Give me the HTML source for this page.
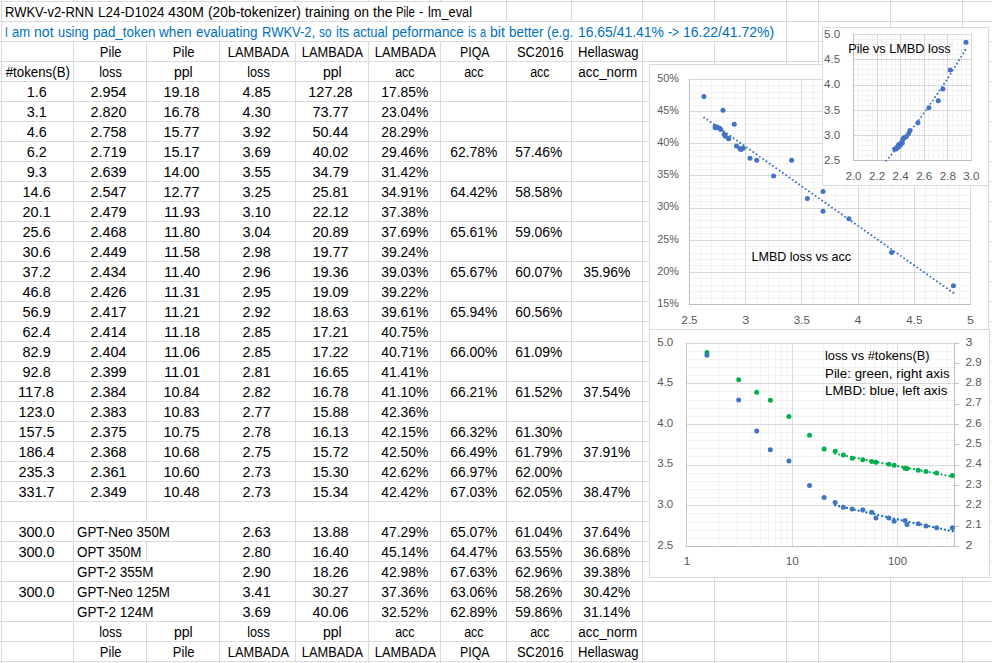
<!DOCTYPE html>
<html><head><meta charset="utf-8"><style>
html,body{margin:0;padding:0;}
body{width:992px;height:663px;overflow:hidden;background:#fff;position:relative;font-family:"Liberation Sans",sans-serif;}
.c{position:absolute;white-space:nowrap;font-size:14.0px;line-height:20px;height:20px;color:#000;transform-origin:center;}
svg{position:absolute;left:0;top:0;}
</style></head><body>
<svg width="992" height="663" fill="#dadada" shape-rendering="crispEdges"><rect x="0" y="1" width="992" height="1"/><rect x="0" y="21" width="992" height="1"/><rect x="0" y="41" width="992" height="1"/><rect x="0" y="61" width="992" height="1"/><rect x="0" y="81" width="992" height="1"/><rect x="0" y="101" width="992" height="1"/><rect x="0" y="121" width="992" height="1"/><rect x="0" y="141" width="992" height="1"/><rect x="0" y="161" width="992" height="1"/><rect x="0" y="181" width="992" height="1"/><rect x="0" y="201" width="992" height="1"/><rect x="0" y="221" width="992" height="1"/><rect x="0" y="241" width="992" height="1"/><rect x="0" y="261" width="992" height="1"/><rect x="0" y="281" width="992" height="1"/><rect x="0" y="301" width="992" height="1"/><rect x="0" y="321" width="992" height="1"/><rect x="0" y="341" width="992" height="1"/><rect x="0" y="361" width="992" height="1"/><rect x="0" y="381" width="992" height="1"/><rect x="0" y="401" width="992" height="1"/><rect x="0" y="421" width="992" height="1"/><rect x="0" y="441" width="992" height="1"/><rect x="0" y="461" width="992" height="1"/><rect x="0" y="481" width="992" height="1"/><rect x="0" y="501" width="992" height="1"/><rect x="0" y="521" width="992" height="1"/><rect x="0" y="541" width="992" height="1"/><rect x="0" y="561" width="992" height="1"/><rect x="0" y="581" width="992" height="1"/><rect x="0" y="601" width="992" height="1"/><rect x="0" y="621" width="992" height="1"/><rect x="0" y="641" width="992" height="1"/><rect x="0" y="661" width="992" height="1"/><rect x="1" y="0" width="1" height="664"/><rect x="73" y="0" width="1" height="2"/><rect x="73" y="42" width="1" height="622"/><rect x="146" y="0" width="1" height="2"/><rect x="146" y="42" width="1" height="480"/><rect x="146" y="542" width="1" height="20"/><rect x="146" y="622" width="1" height="42"/><rect x="219" y="0" width="1" height="2"/><rect x="219" y="42" width="1" height="622"/><rect x="295" y="0" width="1" height="2"/><rect x="295" y="42" width="1" height="622"/><rect x="368" y="0" width="1" height="2"/><rect x="368" y="42" width="1" height="622"/><rect x="440" y="0" width="1" height="2"/><rect x="440" y="42" width="1" height="622"/><rect x="506" y="0" width="1" height="22"/><rect x="506" y="42" width="1" height="622"/><rect x="571" y="0" width="1" height="22"/><rect x="571" y="42" width="1" height="622"/><rect x="642" y="0" width="1" height="22"/><rect x="642" y="42" width="1" height="622"/><rect x="714" y="0" width="1" height="22"/><rect x="714" y="42" width="1" height="622"/><rect x="786" y="0" width="1" height="664"/><rect x="818" y="0" width="1" height="664"/><rect x="890" y="0" width="1" height="664"/><rect x="962" y="0" width="1" height="664"/></svg>
<div class="c" style="left:4.80px;top:2px;transform:scaleX(0.9288);transform-origin:left;">RWKV-v2-RNN</div>
<div class="c" style="left:97.60px;top:2px;transform:scaleX(0.9585);transform-origin:left;">L24-D1024</div>
<div class="c" style="left:168.10px;top:2px;transform:scaleX(1.0227);transform-origin:left;">430M</div>
<div class="c" style="left:208.00px;top:2px;transform:scaleX(0.9863);transform-origin:left;">(20b-tokenizer)</div>
<div class="c" style="left:305.00px;top:2px;transform:scaleX(0.9679);transform-origin:left;">training</div>
<div class="c" style="left:353.50px;top:2px;transform:scaleX(0.9603);transform-origin:left;">on</div>
<div class="c" style="left:372.60px;top:2px;transform:scaleX(0.9986);transform-origin:left;">the</div>
<div class="c" style="left:396.20px;top:2px;transform:scaleX(0.8075);transform-origin:left;">Pile</div>
<div class="c" style="left:418.90px;top:2px;transform:scaleX(0.9455);transform-origin:left;">-</div>
<div class="c" style="left:428.00px;top:2px;transform:scaleX(0.9123);transform-origin:left;">lm_eval</div>
<div class="c" style="left:5.00px;top:22px;transform:scaleX(0.7416);transform-origin:left;color:#0070c0;">I</div>
<div class="c" style="left:12.03px;top:22px;transform:scaleX(0.9249);transform-origin:left;color:#0070c0;">am</div>
<div class="c" style="left:34.15px;top:22px;transform:scaleX(1.0073);transform-origin:left;color:#0070c0;">not</div>
<div class="c" style="left:57.88px;top:22px;transform:scaleX(0.9173);transform-origin:left;color:#0070c0;">using</div>
<div class="c" style="left:92.70px;top:22px;transform:scaleX(0.9563);transform-origin:left;color:#0070c0;">pad_token</div>
<div class="c" style="left:159.37px;top:22px;transform:scaleX(0.9713);transform-origin:left;color:#0070c0;">when</div>
<div class="c" style="left:196.00px;top:22px;transform:scaleX(0.9628);transform-origin:left;color:#0070c0;">evaluating</div>
<div class="c" style="left:261.60px;top:22px;transform:scaleX(0.9285);transform-origin:left;color:#0070c0;">RWKV-2,</div>
<div class="c" style="left:319.00px;top:22px;transform:scaleX(0.8521);transform-origin:left;color:#0070c0;">so</div>
<div class="c" style="left:335.68px;top:22px;transform:scaleX(0.9375);transform-origin:left;color:#0070c0;">its</div>
<div class="c" style="left:352.90px;top:22px;transform:scaleX(0.9296);transform-origin:left;color:#0070c0;">actual</div>
<div class="c" style="left:391.70px;top:22px;transform:scaleX(0.9722);transform-origin:left;color:#0070c0;">peformance</div>
<div class="c" style="left:467.70px;top:22px;transform:scaleX(0.8070);transform-origin:left;color:#0070c0;">is</div>
<div class="c" style="left:479.89px;top:22px;transform:scaleX(0.7784);transform-origin:left;color:#0070c0;">a</div>
<div class="c" style="left:490.05px;top:22px;transform:scaleX(1.0083);transform-origin:left;color:#0070c0;">bit</div>
<div class="c" style="left:509.00px;top:22px;transform:scaleX(0.9609);transform-origin:left;color:#0070c0;">better</div>
<div class="c" style="left:547.30px;top:22px;transform:scaleX(0.9399);transform-origin:left;color:#0070c0;">(e.g.</div>
<div class="c" style="left:577.80px;top:22px;transform:scaleX(0.9941);transform-origin:left;color:#0070c0;">16.65/41.41%</div>
<div class="c" style="left:667.70px;top:22px;transform:scaleX(0.8577);transform-origin:left;color:#0070c0;">-&gt;</div>
<div class="c" style="left:682.80px;top:22px;transform:scaleX(1.0014);transform-origin:left;color:#0070c0;">16.22/41.72%)</div>
<div class="c" style="left:99.13px;top:42px;transform:scaleX(0.9256);">Pile</div>
<div class="c" style="left:172.13px;top:42px;transform:scaleX(0.9256);">Pile</div>
<div class="c" style="left:224.84px;top:42px;transform:scaleX(0.9144);">LAMBADA</div>
<div class="c" style="left:299.34px;top:42px;transform:scaleX(0.9144);">LAMBADA</div>
<div class="c" style="left:371.84px;top:42px;transform:scaleX(0.9144);">LAMBADA</div>
<div class="c" style="left:457.57px;top:42px;transform:scaleX(0.8862);">PIQA</div>
<div class="c" style="left:514.50px;top:42px;transform:scaleX(0.9244);">SC2016</div>
<div class="c" style="left:575.51px;top:42px;transform:scaleX(0.9344);">Hellaswag</div>
<div class="c" style="left:4.45px;top:62px;transform:scaleX(0.9489);">#tokens(B)</div>
<div class="c" style="left:98.35px;top:62px;transform:scaleX(0.9062);">loss</div>
<div class="c" style="left:174.46px;top:62px;transform:scaleX(1.0043);">ppl</div>
<div class="c" style="left:245.85px;top:62px;transform:scaleX(0.9062);">loss</div>
<div class="c" style="left:323.46px;top:62px;transform:scaleX(1.0043);">ppl</div>
<div class="c" style="left:394.41px;top:62px;transform:scaleX(0.8922);">acc</div>
<div class="c" style="left:463.41px;top:62px;transform:scaleX(0.8922);">acc</div>
<div class="c" style="left:528.91px;top:62px;transform:scaleX(0.8922);">acc</div>
<div class="c" style="left:577.06px;top:62px;transform:scaleX(0.9601);">acc_norm</div>
<div class="c" style="left:26.57px;top:82px;transform:scaleX(1.0312);">1.6</div>
<div class="c" style="left:91.28px;top:82px;transform:scaleX(1.0326);">2.954</div>
<div class="c" style="left:164.28px;top:82px;transform:scaleX(1.0326);">19.18</div>
<div class="c" style="left:242.68px;top:82px;transform:scaleX(1.0321);">4.85</div>
<div class="c" style="left:309.39px;top:82px;transform:scaleX(1.0329);">127.28</div>
<div class="c" style="left:380.76px;top:82px;transform:scaleX(0.9905);">17.85%</div>
<div class="c" style="left:26.57px;top:102px;transform:scaleX(1.0312);">3.1</div>
<div class="c" style="left:91.28px;top:102px;transform:scaleX(1.0326);">2.820</div>
<div class="c" style="left:164.28px;top:102px;transform:scaleX(1.0326);">16.78</div>
<div class="c" style="left:242.68px;top:102px;transform:scaleX(1.0321);">4.30</div>
<div class="c" style="left:313.28px;top:102px;transform:scaleX(1.0326);">73.77</div>
<div class="c" style="left:380.76px;top:102px;transform:scaleX(0.9905);">23.04%</div>
<div class="c" style="left:26.57px;top:122px;transform:scaleX(1.0312);">4.6</div>
<div class="c" style="left:91.28px;top:122px;transform:scaleX(1.0326);">2.758</div>
<div class="c" style="left:164.28px;top:122px;transform:scaleX(1.0326);">15.77</div>
<div class="c" style="left:242.68px;top:122px;transform:scaleX(1.0321);">3.92</div>
<div class="c" style="left:313.28px;top:122px;transform:scaleX(1.0326);">50.44</div>
<div class="c" style="left:380.76px;top:122px;transform:scaleX(0.9905);">28.29%</div>
<div class="c" style="left:26.57px;top:142px;transform:scaleX(1.0312);">6.2</div>
<div class="c" style="left:91.28px;top:142px;transform:scaleX(1.0326);">2.719</div>
<div class="c" style="left:164.28px;top:142px;transform:scaleX(1.0326);">15.17</div>
<div class="c" style="left:242.68px;top:142px;transform:scaleX(1.0321);">3.69</div>
<div class="c" style="left:313.28px;top:142px;transform:scaleX(1.0326);">40.02</div>
<div class="c" style="left:380.76px;top:142px;transform:scaleX(0.9905);">29.46%</div>
<div class="c" style="left:449.76px;top:142px;transform:scaleX(0.9905);">62.78%</div>
<div class="c" style="left:515.26px;top:142px;transform:scaleX(0.9905);">57.46%</div>
<div class="c" style="left:26.57px;top:162px;transform:scaleX(1.0312);">9.3</div>
<div class="c" style="left:91.28px;top:162px;transform:scaleX(1.0326);">2.639</div>
<div class="c" style="left:164.28px;top:162px;transform:scaleX(1.0326);">14.00</div>
<div class="c" style="left:242.68px;top:162px;transform:scaleX(1.0321);">3.55</div>
<div class="c" style="left:313.28px;top:162px;transform:scaleX(1.0326);">34.79</div>
<div class="c" style="left:380.76px;top:162px;transform:scaleX(0.9905);">31.42%</div>
<div class="c" style="left:22.68px;top:182px;transform:scaleX(1.0321);">14.6</div>
<div class="c" style="left:91.28px;top:182px;transform:scaleX(1.0326);">2.547</div>
<div class="c" style="left:164.28px;top:182px;transform:scaleX(1.0326);">12.77</div>
<div class="c" style="left:242.68px;top:182px;transform:scaleX(1.0321);">3.25</div>
<div class="c" style="left:313.28px;top:182px;transform:scaleX(1.0326);">25.81</div>
<div class="c" style="left:380.76px;top:182px;transform:scaleX(0.9905);">34.91%</div>
<div class="c" style="left:449.76px;top:182px;transform:scaleX(0.9905);">64.42%</div>
<div class="c" style="left:515.26px;top:182px;transform:scaleX(0.9905);">58.58%</div>
<div class="c" style="left:22.68px;top:202px;transform:scaleX(1.0321);">20.1</div>
<div class="c" style="left:91.28px;top:202px;transform:scaleX(1.0326);">2.479</div>
<div class="c" style="left:164.80px;top:202px;transform:scaleX(1.0641);">11.93</div>
<div class="c" style="left:242.68px;top:202px;transform:scaleX(1.0321);">3.10</div>
<div class="c" style="left:313.28px;top:202px;transform:scaleX(1.0326);">22.12</div>
<div class="c" style="left:380.76px;top:202px;transform:scaleX(0.9905);">37.38%</div>
<div class="c" style="left:22.68px;top:222px;transform:scaleX(1.0321);">25.6</div>
<div class="c" style="left:91.28px;top:222px;transform:scaleX(1.0326);">2.468</div>
<div class="c" style="left:164.80px;top:222px;transform:scaleX(1.0641);">11.80</div>
<div class="c" style="left:242.68px;top:222px;transform:scaleX(1.0321);">3.04</div>
<div class="c" style="left:313.28px;top:222px;transform:scaleX(1.0326);">20.89</div>
<div class="c" style="left:380.76px;top:222px;transform:scaleX(0.9905);">37.69%</div>
<div class="c" style="left:449.76px;top:222px;transform:scaleX(0.9905);">65.61%</div>
<div class="c" style="left:515.26px;top:222px;transform:scaleX(0.9905);">59.06%</div>
<div class="c" style="left:22.68px;top:242px;transform:scaleX(1.0321);">30.6</div>
<div class="c" style="left:91.28px;top:242px;transform:scaleX(1.0326);">2.449</div>
<div class="c" style="left:164.80px;top:242px;transform:scaleX(1.0641);">11.58</div>
<div class="c" style="left:242.68px;top:242px;transform:scaleX(1.0321);">2.98</div>
<div class="c" style="left:313.28px;top:242px;transform:scaleX(1.0326);">19.77</div>
<div class="c" style="left:380.76px;top:242px;transform:scaleX(0.9905);">39.24%</div>
<div class="c" style="left:22.68px;top:262px;transform:scaleX(1.0321);">37.2</div>
<div class="c" style="left:91.28px;top:262px;transform:scaleX(1.0326);">2.434</div>
<div class="c" style="left:164.80px;top:262px;transform:scaleX(1.0641);">11.40</div>
<div class="c" style="left:242.68px;top:262px;transform:scaleX(1.0321);">2.96</div>
<div class="c" style="left:313.28px;top:262px;transform:scaleX(1.0326);">19.36</div>
<div class="c" style="left:380.76px;top:262px;transform:scaleX(0.9905);">39.03%</div>
<div class="c" style="left:449.76px;top:262px;transform:scaleX(0.9905);">65.67%</div>
<div class="c" style="left:515.26px;top:262px;transform:scaleX(0.9905);">60.07%</div>
<div class="c" style="left:583.26px;top:262px;transform:scaleX(0.9905);">35.96%</div>
<div class="c" style="left:22.68px;top:282px;transform:scaleX(1.0321);">46.8</div>
<div class="c" style="left:91.28px;top:282px;transform:scaleX(1.0326);">2.426</div>
<div class="c" style="left:164.80px;top:282px;transform:scaleX(1.0641);">11.31</div>
<div class="c" style="left:242.68px;top:282px;transform:scaleX(1.0321);">2.95</div>
<div class="c" style="left:313.28px;top:282px;transform:scaleX(1.0326);">19.09</div>
<div class="c" style="left:380.76px;top:282px;transform:scaleX(0.9905);">39.22%</div>
<div class="c" style="left:22.68px;top:302px;transform:scaleX(1.0321);">56.9</div>
<div class="c" style="left:91.28px;top:302px;transform:scaleX(1.0326);">2.417</div>
<div class="c" style="left:164.80px;top:302px;transform:scaleX(1.0641);">11.21</div>
<div class="c" style="left:242.68px;top:302px;transform:scaleX(1.0321);">2.92</div>
<div class="c" style="left:313.28px;top:302px;transform:scaleX(1.0326);">18.63</div>
<div class="c" style="left:380.76px;top:302px;transform:scaleX(0.9905);">39.61%</div>
<div class="c" style="left:449.76px;top:302px;transform:scaleX(0.9905);">65.94%</div>
<div class="c" style="left:515.26px;top:302px;transform:scaleX(0.9905);">60.56%</div>
<div class="c" style="left:22.68px;top:322px;transform:scaleX(1.0321);">62.4</div>
<div class="c" style="left:91.28px;top:322px;transform:scaleX(1.0326);">2.414</div>
<div class="c" style="left:164.80px;top:322px;transform:scaleX(1.0641);">11.18</div>
<div class="c" style="left:242.68px;top:322px;transform:scaleX(1.0321);">2.85</div>
<div class="c" style="left:313.28px;top:322px;transform:scaleX(1.0326);">17.21</div>
<div class="c" style="left:380.76px;top:322px;transform:scaleX(0.9905);">40.75%</div>
<div class="c" style="left:22.68px;top:342px;transform:scaleX(1.0321);">82.9</div>
<div class="c" style="left:91.28px;top:342px;transform:scaleX(1.0326);">2.404</div>
<div class="c" style="left:164.80px;top:342px;transform:scaleX(1.0641);">11.06</div>
<div class="c" style="left:242.68px;top:342px;transform:scaleX(1.0321);">2.85</div>
<div class="c" style="left:313.28px;top:342px;transform:scaleX(1.0326);">17.22</div>
<div class="c" style="left:380.76px;top:342px;transform:scaleX(0.9905);">40.71%</div>
<div class="c" style="left:449.76px;top:342px;transform:scaleX(0.9905);">66.00%</div>
<div class="c" style="left:515.26px;top:342px;transform:scaleX(0.9905);">61.09%</div>
<div class="c" style="left:22.68px;top:362px;transform:scaleX(1.0321);">92.8</div>
<div class="c" style="left:91.28px;top:362px;transform:scaleX(1.0326);">2.399</div>
<div class="c" style="left:164.80px;top:362px;transform:scaleX(1.0641);">11.01</div>
<div class="c" style="left:242.68px;top:362px;transform:scaleX(1.0321);">2.81</div>
<div class="c" style="left:313.28px;top:362px;transform:scaleX(1.0326);">16.65</div>
<div class="c" style="left:380.76px;top:362px;transform:scaleX(0.9905);">41.41%</div>
<div class="c" style="left:19.30px;top:382px;transform:scaleX(1.0641);">117.8</div>
<div class="c" style="left:91.28px;top:382px;transform:scaleX(1.0326);">2.384</div>
<div class="c" style="left:164.28px;top:382px;transform:scaleX(1.0326);">10.84</div>
<div class="c" style="left:242.68px;top:382px;transform:scaleX(1.0321);">2.82</div>
<div class="c" style="left:313.28px;top:382px;transform:scaleX(1.0326);">16.78</div>
<div class="c" style="left:380.76px;top:382px;transform:scaleX(0.9905);">41.10%</div>
<div class="c" style="left:449.76px;top:382px;transform:scaleX(0.9905);">66.21%</div>
<div class="c" style="left:515.26px;top:382px;transform:scaleX(0.9905);">61.52%</div>
<div class="c" style="left:583.26px;top:382px;transform:scaleX(0.9905);">37.54%</div>
<div class="c" style="left:18.78px;top:402px;transform:scaleX(1.0326);">123.0</div>
<div class="c" style="left:91.28px;top:402px;transform:scaleX(1.0326);">2.383</div>
<div class="c" style="left:164.28px;top:402px;transform:scaleX(1.0326);">10.83</div>
<div class="c" style="left:242.68px;top:402px;transform:scaleX(1.0321);">2.77</div>
<div class="c" style="left:313.28px;top:402px;transform:scaleX(1.0326);">15.88</div>
<div class="c" style="left:380.76px;top:402px;transform:scaleX(0.9905);">42.36%</div>
<div class="c" style="left:18.78px;top:422px;transform:scaleX(1.0326);">157.5</div>
<div class="c" style="left:91.28px;top:422px;transform:scaleX(1.0326);">2.375</div>
<div class="c" style="left:164.28px;top:422px;transform:scaleX(1.0326);">10.75</div>
<div class="c" style="left:242.68px;top:422px;transform:scaleX(1.0321);">2.78</div>
<div class="c" style="left:313.28px;top:422px;transform:scaleX(1.0326);">16.13</div>
<div class="c" style="left:380.76px;top:422px;transform:scaleX(0.9905);">42.15%</div>
<div class="c" style="left:449.76px;top:422px;transform:scaleX(0.9905);">66.32%</div>
<div class="c" style="left:515.26px;top:422px;transform:scaleX(0.9905);">61.30%</div>
<div class="c" style="left:18.78px;top:442px;transform:scaleX(1.0326);">186.4</div>
<div class="c" style="left:91.28px;top:442px;transform:scaleX(1.0326);">2.368</div>
<div class="c" style="left:164.28px;top:442px;transform:scaleX(1.0326);">10.68</div>
<div class="c" style="left:242.68px;top:442px;transform:scaleX(1.0321);">2.75</div>
<div class="c" style="left:313.28px;top:442px;transform:scaleX(1.0326);">15.72</div>
<div class="c" style="left:380.76px;top:442px;transform:scaleX(0.9905);">42.50%</div>
<div class="c" style="left:449.76px;top:442px;transform:scaleX(0.9905);">66.49%</div>
<div class="c" style="left:515.26px;top:442px;transform:scaleX(0.9905);">61.79%</div>
<div class="c" style="left:583.26px;top:442px;transform:scaleX(0.9905);">37.91%</div>
<div class="c" style="left:18.78px;top:462px;transform:scaleX(1.0326);">235.3</div>
<div class="c" style="left:91.28px;top:462px;transform:scaleX(1.0326);">2.361</div>
<div class="c" style="left:164.28px;top:462px;transform:scaleX(1.0326);">10.60</div>
<div class="c" style="left:242.68px;top:462px;transform:scaleX(1.0321);">2.73</div>
<div class="c" style="left:313.28px;top:462px;transform:scaleX(1.0326);">15.30</div>
<div class="c" style="left:380.76px;top:462px;transform:scaleX(0.9905);">42.62%</div>
<div class="c" style="left:449.76px;top:462px;transform:scaleX(0.9905);">66.97%</div>
<div class="c" style="left:515.26px;top:462px;transform:scaleX(0.9905);">62.00%</div>
<div class="c" style="left:18.78px;top:482px;transform:scaleX(1.0326);">331.7</div>
<div class="c" style="left:91.28px;top:482px;transform:scaleX(1.0326);">2.349</div>
<div class="c" style="left:164.28px;top:482px;transform:scaleX(1.0326);">10.48</div>
<div class="c" style="left:242.68px;top:482px;transform:scaleX(1.0321);">2.73</div>
<div class="c" style="left:313.28px;top:482px;transform:scaleX(1.0326);">15.34</div>
<div class="c" style="left:380.76px;top:482px;transform:scaleX(0.9905);">42.42%</div>
<div class="c" style="left:449.76px;top:482px;transform:scaleX(0.9905);">67.03%</div>
<div class="c" style="left:515.26px;top:482px;transform:scaleX(0.9905);">62.05%</div>
<div class="c" style="left:583.26px;top:482px;transform:scaleX(0.9905);">38.47%</div>
<div class="c" style="left:18.78px;top:522px;transform:scaleX(1.0326);">300.0</div>
<div class="c" style="left:77.00px;top:522px;transform:scaleX(0.9562);transform-origin:left;">GPT-Neo 350M</div>
<div class="c" style="left:242.68px;top:522px;transform:scaleX(1.0321);">2.63</div>
<div class="c" style="left:313.28px;top:522px;transform:scaleX(1.0326);">13.88</div>
<div class="c" style="left:380.76px;top:522px;transform:scaleX(0.9905);">47.29%</div>
<div class="c" style="left:449.76px;top:522px;transform:scaleX(0.9905);">65.07%</div>
<div class="c" style="left:515.26px;top:522px;transform:scaleX(0.9905);">61.04%</div>
<div class="c" style="left:583.26px;top:522px;transform:scaleX(0.9905);">37.64%</div>
<div class="c" style="left:18.78px;top:542px;transform:scaleX(1.0326);">300.0</div>
<div class="c" style="left:77.00px;top:542px;transform:scaleX(0.9558);transform-origin:left;">OPT 350M</div>
<div class="c" style="left:242.68px;top:542px;transform:scaleX(1.0321);">2.80</div>
<div class="c" style="left:313.28px;top:542px;transform:scaleX(1.0326);">16.40</div>
<div class="c" style="left:380.76px;top:542px;transform:scaleX(0.9905);">45.14%</div>
<div class="c" style="left:449.76px;top:542px;transform:scaleX(0.9905);">64.47%</div>
<div class="c" style="left:515.26px;top:542px;transform:scaleX(0.9905);">63.55%</div>
<div class="c" style="left:583.26px;top:542px;transform:scaleX(0.9905);">36.68%</div>
<div class="c" style="left:77.00px;top:562px;transform:scaleX(0.9645);transform-origin:left;">GPT-2 355M</div>
<div class="c" style="left:242.68px;top:562px;transform:scaleX(1.0321);">2.90</div>
<div class="c" style="left:313.28px;top:562px;transform:scaleX(1.0326);">18.26</div>
<div class="c" style="left:380.76px;top:562px;transform:scaleX(0.9905);">42.98%</div>
<div class="c" style="left:449.76px;top:562px;transform:scaleX(0.9905);">67.63%</div>
<div class="c" style="left:515.26px;top:562px;transform:scaleX(0.9905);">62.96%</div>
<div class="c" style="left:583.26px;top:562px;transform:scaleX(0.9905);">39.38%</div>
<div class="c" style="left:18.78px;top:582px;transform:scaleX(1.0326);">300.0</div>
<div class="c" style="left:77.00px;top:582px;transform:scaleX(0.9562);transform-origin:left;">GPT-Neo 125M</div>
<div class="c" style="left:242.68px;top:582px;transform:scaleX(1.0321);">3.41</div>
<div class="c" style="left:313.28px;top:582px;transform:scaleX(1.0326);">30.27</div>
<div class="c" style="left:380.76px;top:582px;transform:scaleX(0.9905);">37.36%</div>
<div class="c" style="left:449.76px;top:582px;transform:scaleX(0.9905);">63.06%</div>
<div class="c" style="left:515.26px;top:582px;transform:scaleX(0.9905);">58.26%</div>
<div class="c" style="left:583.26px;top:582px;transform:scaleX(0.9905);">30.42%</div>
<div class="c" style="left:77.00px;top:602px;transform:scaleX(0.9645);transform-origin:left;">GPT-2 124M</div>
<div class="c" style="left:242.68px;top:602px;transform:scaleX(1.0321);">3.69</div>
<div class="c" style="left:313.28px;top:602px;transform:scaleX(1.0326);">40.06</div>
<div class="c" style="left:380.76px;top:602px;transform:scaleX(0.9905);">32.52%</div>
<div class="c" style="left:449.76px;top:602px;transform:scaleX(0.9905);">62.89%</div>
<div class="c" style="left:515.26px;top:602px;transform:scaleX(0.9905);">59.86%</div>
<div class="c" style="left:583.26px;top:602px;transform:scaleX(0.9905);">31.14%</div>
<div class="c" style="left:98.35px;top:622px;transform:scaleX(0.9062);">loss</div>
<div class="c" style="left:174.46px;top:622px;transform:scaleX(1.0043);">ppl</div>
<div class="c" style="left:245.85px;top:622px;transform:scaleX(0.9062);">loss</div>
<div class="c" style="left:323.46px;top:622px;transform:scaleX(1.0043);">ppl</div>
<div class="c" style="left:394.41px;top:622px;transform:scaleX(0.8922);">acc</div>
<div class="c" style="left:463.41px;top:622px;transform:scaleX(0.8922);">acc</div>
<div class="c" style="left:528.91px;top:622px;transform:scaleX(0.8922);">acc</div>
<div class="c" style="left:577.06px;top:622px;transform:scaleX(0.9601);">acc_norm</div>
<div class="c" style="left:99.13px;top:642px;transform:scaleX(0.9256);">Pile</div>
<div class="c" style="left:172.13px;top:642px;transform:scaleX(0.9256);">Pile</div>
<div class="c" style="left:224.84px;top:642px;transform:scaleX(0.9144);">LAMBADA</div>
<div class="c" style="left:299.34px;top:642px;transform:scaleX(0.9144);">LAMBADA</div>
<div class="c" style="left:371.84px;top:642px;transform:scaleX(0.9144);">LAMBADA</div>
<div class="c" style="left:457.57px;top:642px;transform:scaleX(0.8862);">PIQA</div>
<div class="c" style="left:514.50px;top:642px;transform:scaleX(0.9244);">SC2016</div>
<div class="c" style="left:575.51px;top:642px;transform:scaleX(0.9344);">Hellaswag</div>
<svg width="992" height="663" style="position:absolute;left:0;top:0" font-family="Liberation Sans, sans-serif"><rect x="649.5" y="64.5" width="339" height="265" fill="#fff" stroke="#d9d9d9" stroke-width="1"/><rect x="700" y="79" width="1" height="226" fill="#f2f2f2"/><rect x="711" y="79" width="1" height="226" fill="#f2f2f2"/><rect x="723" y="79" width="1" height="226" fill="#f2f2f2"/><rect x="734" y="79" width="1" height="226" fill="#f2f2f2"/><rect x="756" y="79" width="1" height="226" fill="#f2f2f2"/><rect x="768" y="79" width="1" height="226" fill="#f2f2f2"/><rect x="779" y="79" width="1" height="226" fill="#f2f2f2"/><rect x="790" y="79" width="1" height="226" fill="#f2f2f2"/><rect x="813" y="79" width="1" height="226" fill="#f2f2f2"/><rect x="824" y="79" width="1" height="226" fill="#f2f2f2"/><rect x="835" y="79" width="1" height="226" fill="#f2f2f2"/><rect x="846" y="79" width="1" height="226" fill="#f2f2f2"/><rect x="869" y="79" width="1" height="226" fill="#f2f2f2"/><rect x="880" y="79" width="1" height="226" fill="#f2f2f2"/><rect x="891" y="79" width="1" height="226" fill="#f2f2f2"/><rect x="903" y="79" width="1" height="226" fill="#f2f2f2"/><rect x="925" y="79" width="1" height="226" fill="#f2f2f2"/><rect x="936" y="79" width="1" height="226" fill="#f2f2f2"/><rect x="948" y="79" width="1" height="226" fill="#f2f2f2"/><rect x="959" y="79" width="1" height="226" fill="#f2f2f2"/><rect x="689" y="85" width="282" height="1" fill="#f2f2f2"/><rect x="689" y="92" width="282" height="1" fill="#f2f2f2"/><rect x="689" y="98" width="282" height="1" fill="#f2f2f2"/><rect x="689" y="105" width="282" height="1" fill="#f2f2f2"/><rect x="689" y="118" width="282" height="1" fill="#f2f2f2"/><rect x="689" y="124" width="282" height="1" fill="#f2f2f2"/><rect x="689" y="130" width="282" height="1" fill="#f2f2f2"/><rect x="689" y="137" width="282" height="1" fill="#f2f2f2"/><rect x="689" y="150" width="282" height="1" fill="#f2f2f2"/><rect x="689" y="156" width="282" height="1" fill="#f2f2f2"/><rect x="689" y="163" width="282" height="1" fill="#f2f2f2"/><rect x="689" y="169" width="282" height="1" fill="#f2f2f2"/><rect x="689" y="182" width="282" height="1" fill="#f2f2f2"/><rect x="689" y="188" width="282" height="1" fill="#f2f2f2"/><rect x="689" y="195" width="282" height="1" fill="#f2f2f2"/><rect x="689" y="201" width="282" height="1" fill="#f2f2f2"/><rect x="689" y="214" width="282" height="1" fill="#f2f2f2"/><rect x="689" y="220" width="282" height="1" fill="#f2f2f2"/><rect x="689" y="227" width="282" height="1" fill="#f2f2f2"/><rect x="689" y="233" width="282" height="1" fill="#f2f2f2"/><rect x="689" y="246" width="282" height="1" fill="#f2f2f2"/><rect x="689" y="253" width="282" height="1" fill="#f2f2f2"/><rect x="689" y="259" width="282" height="1" fill="#f2f2f2"/><rect x="689" y="265" width="282" height="1" fill="#f2f2f2"/><rect x="689" y="278" width="282" height="1" fill="#f2f2f2"/><rect x="689" y="285" width="282" height="1" fill="#f2f2f2"/><rect x="689" y="291" width="282" height="1" fill="#f2f2f2"/><rect x="689" y="298" width="282" height="1" fill="#f2f2f2"/><rect x="689" y="79" width="1" height="226" fill="#d9d9d9"/><rect x="745" y="79" width="1" height="226" fill="#d9d9d9"/><rect x="801" y="79" width="1" height="226" fill="#d9d9d9"/><rect x="858" y="79" width="1" height="226" fill="#d9d9d9"/><rect x="914" y="79" width="1" height="226" fill="#d9d9d9"/><rect x="970" y="79" width="1" height="226" fill="#d9d9d9"/><rect x="689" y="79" width="282" height="1" fill="#d9d9d9"/><rect x="689" y="111" width="282" height="1" fill="#d9d9d9"/><rect x="689" y="143" width="282" height="1" fill="#d9d9d9"/><rect x="689" y="175" width="282" height="1" fill="#d9d9d9"/><rect x="689" y="208" width="282" height="1" fill="#d9d9d9"/><rect x="689" y="240" width="282" height="1" fill="#d9d9d9"/><rect x="689" y="272" width="282" height="1" fill="#d9d9d9"/><rect x="689" y="304" width="282" height="1" fill="#d9d9d9"/><rect x="689" y="79" width="1" height="226" fill="#bfbfbf"/><rect x="689" y="304" width="282" height="1" fill="#bfbfbf"/><text x="679.00" y="81.90" font-size="11.2" fill="#595959" text-anchor="end" textLength="21.65" lengthAdjust="spacingAndGlyphs">50%</text><text x="679.00" y="114.04" font-size="11.2" fill="#595959" text-anchor="end" textLength="21.65" lengthAdjust="spacingAndGlyphs">45%</text><text x="679.00" y="146.19" font-size="11.2" fill="#595959" text-anchor="end" textLength="21.65" lengthAdjust="spacingAndGlyphs">40%</text><text x="679.00" y="178.33" font-size="11.2" fill="#595959" text-anchor="end" textLength="21.65" lengthAdjust="spacingAndGlyphs">35%</text><text x="679.00" y="210.47" font-size="11.2" fill="#595959" text-anchor="end" textLength="21.65" lengthAdjust="spacingAndGlyphs">30%</text><text x="679.00" y="242.61" font-size="11.2" fill="#595959" text-anchor="end" textLength="21.65" lengthAdjust="spacingAndGlyphs">25%</text><text x="679.00" y="274.76" font-size="11.2" fill="#595959" text-anchor="end" textLength="21.65" lengthAdjust="spacingAndGlyphs">20%</text><text x="679.00" y="306.90" font-size="11.2" fill="#595959" text-anchor="end" textLength="21.65" lengthAdjust="spacingAndGlyphs">15%</text><text x="689.50" y="324.00" font-size="11.2" fill="#595959" text-anchor="middle" textLength="16.09" lengthAdjust="spacingAndGlyphs">2.5</text><text x="745.70" y="324.00" font-size="11.2" fill="#595959" text-anchor="middle" textLength="6.98" lengthAdjust="spacingAndGlyphs">3</text><text x="801.90" y="324.00" font-size="11.2" fill="#595959" text-anchor="middle" textLength="16.09" lengthAdjust="spacingAndGlyphs">3.5</text><text x="858.10" y="324.00" font-size="11.2" fill="#595959" text-anchor="middle" textLength="6.98" lengthAdjust="spacingAndGlyphs">4</text><text x="914.30" y="324.00" font-size="11.2" fill="#595959" text-anchor="middle" textLength="16.09" lengthAdjust="spacingAndGlyphs">4.5</text><text x="970.50" y="324.00" font-size="11.2" fill="#595959" text-anchor="middle" textLength="6.98" lengthAdjust="spacingAndGlyphs">5</text><line x1="704.11" y1="117.47" x2="953.64" y2="293.10" stroke="#4472c4" stroke-width="2" stroke-dasharray="0.01 4" stroke-linecap="round"/><circle cx="953.44" cy="285.78" r="2.5" fill="#4472c4"/><circle cx="891.62" cy="252.41" r="2.5" fill="#4472c4"/><circle cx="848.91" cy="218.66" r="2.5" fill="#4472c4"/><circle cx="823.06" cy="211.14" r="2.5" fill="#4472c4"/><circle cx="807.32" cy="198.54" r="2.5" fill="#4472c4"/><circle cx="773.60" cy="176.11" r="2.5" fill="#4472c4"/><circle cx="756.74" cy="160.23" r="2.5" fill="#4472c4"/><circle cx="750.00" cy="158.24" r="2.5" fill="#4472c4"/><circle cx="743.25" cy="148.27" r="2.5" fill="#4472c4"/><circle cx="741.00" cy="149.62" r="2.5" fill="#4472c4"/><circle cx="739.88" cy="148.40" r="2.5" fill="#4472c4"/><circle cx="736.51" cy="145.89" r="2.5" fill="#4472c4"/><circle cx="728.64" cy="138.56" r="2.5" fill="#4472c4"/><circle cx="728.64" cy="138.82" r="2.5" fill="#4472c4"/><circle cx="724.14" cy="134.32" r="2.5" fill="#4472c4"/><circle cx="725.27" cy="136.31" r="2.5" fill="#4472c4"/><circle cx="719.65" cy="128.21" r="2.5" fill="#4472c4"/><circle cx="720.77" cy="129.56" r="2.5" fill="#4472c4"/><circle cx="717.40" cy="127.31" r="2.5" fill="#4472c4"/><circle cx="715.15" cy="126.54" r="2.5" fill="#4472c4"/><circle cx="715.15" cy="127.83" r="2.5" fill="#4472c4"/><circle cx="703.91" cy="96.52" r="2.5" fill="#4472c4"/><circle cx="723.02" cy="110.34" r="2.5" fill="#4472c4"/><circle cx="734.26" cy="124.23" r="2.5" fill="#4472c4"/><circle cx="791.58" cy="160.36" r="2.5" fill="#4472c4"/><circle cx="823.06" cy="191.47" r="2.5" fill="#4472c4"/><text x="751.50" y="260.70" font-size="13" fill="#000" text-anchor="start" textLength="99.50" lengthAdjust="spacingAndGlyphs">LMBD loss vs acc</text><rect x="649.5" y="329.5" width="340" height="248" fill="#fff" stroke="#d9d9d9" stroke-width="1"/><rect x="718" y="343" width="1" height="204" fill="#f2f2f2"/><rect x="737" y="343" width="1" height="204" fill="#f2f2f2"/><rect x="750" y="343" width="1" height="204" fill="#f2f2f2"/><rect x="760" y="343" width="1" height="204" fill="#f2f2f2"/><rect x="768" y="343" width="1" height="204" fill="#f2f2f2"/><rect x="775" y="343" width="1" height="204" fill="#f2f2f2"/><rect x="781" y="343" width="1" height="204" fill="#f2f2f2"/><rect x="787" y="343" width="1" height="204" fill="#f2f2f2"/><rect x="823" y="343" width="1" height="204" fill="#f2f2f2"/><rect x="842" y="343" width="1" height="204" fill="#f2f2f2"/><rect x="855" y="343" width="1" height="204" fill="#f2f2f2"/><rect x="865" y="343" width="1" height="204" fill="#f2f2f2"/><rect x="874" y="343" width="1" height="204" fill="#f2f2f2"/><rect x="881" y="343" width="1" height="204" fill="#f2f2f2"/><rect x="887" y="343" width="1" height="204" fill="#f2f2f2"/><rect x="892" y="343" width="1" height="204" fill="#f2f2f2"/><rect x="929" y="343" width="1" height="204" fill="#f2f2f2"/><rect x="947" y="343" width="1" height="204" fill="#f2f2f2"/><rect x="686" y="351" width="269" height="1" fill="#f2f2f2"/><rect x="686" y="359" width="269" height="1" fill="#f2f2f2"/><rect x="686" y="367" width="269" height="1" fill="#f2f2f2"/><rect x="686" y="375" width="269" height="1" fill="#f2f2f2"/><rect x="686" y="391" width="269" height="1" fill="#f2f2f2"/><rect x="686" y="400" width="269" height="1" fill="#f2f2f2"/><rect x="686" y="408" width="269" height="1" fill="#f2f2f2"/><rect x="686" y="416" width="269" height="1" fill="#f2f2f2"/><rect x="686" y="432" width="269" height="1" fill="#f2f2f2"/><rect x="686" y="440" width="269" height="1" fill="#f2f2f2"/><rect x="686" y="448" width="269" height="1" fill="#f2f2f2"/><rect x="686" y="456" width="269" height="1" fill="#f2f2f2"/><rect x="686" y="473" width="269" height="1" fill="#f2f2f2"/><rect x="686" y="481" width="269" height="1" fill="#f2f2f2"/><rect x="686" y="489" width="269" height="1" fill="#f2f2f2"/><rect x="686" y="497" width="269" height="1" fill="#f2f2f2"/><rect x="686" y="513" width="269" height="1" fill="#f2f2f2"/><rect x="686" y="522" width="269" height="1" fill="#f2f2f2"/><rect x="686" y="530" width="269" height="1" fill="#f2f2f2"/><rect x="686" y="538" width="269" height="1" fill="#f2f2f2"/><rect x="792" y="343" width="1" height="204" fill="#d9d9d9"/><rect x="897" y="343" width="1" height="204" fill="#d9d9d9"/><rect x="686" y="343" width="269" height="1" fill="#d9d9d9"/><rect x="686" y="383" width="269" height="1" fill="#d9d9d9"/><rect x="686" y="424" width="269" height="1" fill="#d9d9d9"/><rect x="686" y="465" width="269" height="1" fill="#d9d9d9"/><rect x="686" y="505" width="269" height="1" fill="#d9d9d9"/><rect x="686" y="546" width="269" height="1" fill="#d9d9d9"/><rect x="686" y="343" width="1" height="204" fill="#bfbfbf"/><rect x="686" y="546" width="269" height="1" fill="#bfbfbf"/><rect x="954" y="343" width="1" height="204" fill="#bfbfbf"/><rect x="954" y="343" width="5" height="1" fill="#bfbfbf"/><rect x="954" y="363" width="5" height="1" fill="#bfbfbf"/><rect x="954" y="383" width="5" height="1" fill="#bfbfbf"/><rect x="954" y="404" width="5" height="1" fill="#bfbfbf"/><rect x="954" y="424" width="5" height="1" fill="#bfbfbf"/><rect x="954" y="444" width="5" height="1" fill="#bfbfbf"/><rect x="954" y="465" width="5" height="1" fill="#bfbfbf"/><rect x="954" y="485" width="5" height="1" fill="#bfbfbf"/><rect x="954" y="505" width="5" height="1" fill="#bfbfbf"/><rect x="954" y="526" width="5" height="1" fill="#bfbfbf"/><rect x="954" y="546" width="5" height="1" fill="#bfbfbf"/><text x="673.30" y="345.50" font-size="11.2" fill="#595959" text-anchor="end" textLength="16.09" lengthAdjust="spacingAndGlyphs">5.0</text><text x="673.30" y="386.16" font-size="11.2" fill="#595959" text-anchor="end" textLength="16.09" lengthAdjust="spacingAndGlyphs">4.5</text><text x="673.30" y="426.82" font-size="11.2" fill="#595959" text-anchor="end" textLength="16.09" lengthAdjust="spacingAndGlyphs">4.0</text><text x="673.30" y="467.48" font-size="11.2" fill="#595959" text-anchor="end" textLength="16.09" lengthAdjust="spacingAndGlyphs">3.5</text><text x="673.30" y="508.14" font-size="11.2" fill="#595959" text-anchor="end" textLength="16.09" lengthAdjust="spacingAndGlyphs">3.0</text><text x="673.30" y="548.80" font-size="11.2" fill="#595959" text-anchor="end" textLength="16.09" lengthAdjust="spacingAndGlyphs">2.5</text><text x="965.50" y="345.50" font-size="11.2" fill="#595959" text-anchor="start" textLength="6.98" lengthAdjust="spacingAndGlyphs">3</text><text x="965.50" y="365.83" font-size="11.2" fill="#595959" text-anchor="start" textLength="16.09" lengthAdjust="spacingAndGlyphs">2.9</text><text x="965.50" y="386.16" font-size="11.2" fill="#595959" text-anchor="start" textLength="16.09" lengthAdjust="spacingAndGlyphs">2.8</text><text x="965.50" y="406.49" font-size="11.2" fill="#595959" text-anchor="start" textLength="16.09" lengthAdjust="spacingAndGlyphs">2.7</text><text x="965.50" y="426.82" font-size="11.2" fill="#595959" text-anchor="start" textLength="16.09" lengthAdjust="spacingAndGlyphs">2.6</text><text x="965.50" y="447.15" font-size="11.2" fill="#595959" text-anchor="start" textLength="16.09" lengthAdjust="spacingAndGlyphs">2.5</text><text x="965.50" y="467.48" font-size="11.2" fill="#595959" text-anchor="start" textLength="16.09" lengthAdjust="spacingAndGlyphs">2.4</text><text x="965.50" y="487.81" font-size="11.2" fill="#595959" text-anchor="start" textLength="16.09" lengthAdjust="spacingAndGlyphs">2.3</text><text x="965.50" y="508.14" font-size="11.2" fill="#595959" text-anchor="start" textLength="16.09" lengthAdjust="spacingAndGlyphs">2.2</text><text x="965.50" y="528.47" font-size="11.2" fill="#595959" text-anchor="start" textLength="16.09" lengthAdjust="spacingAndGlyphs">2.1</text><text x="965.50" y="548.80" font-size="11.2" fill="#595959" text-anchor="start" textLength="6.98" lengthAdjust="spacingAndGlyphs">2</text><text x="686.90" y="565.30" font-size="11.2" fill="#595959" text-anchor="middle" textLength="6.98" lengthAdjust="spacingAndGlyphs">1</text><text x="792.20" y="565.30" font-size="11.2" fill="#595959" text-anchor="middle" textLength="13.07" lengthAdjust="spacingAndGlyphs">10</text><text x="897.50" y="565.30" font-size="11.2" fill="#595959" text-anchor="middle" textLength="19.15" lengthAdjust="spacingAndGlyphs">100</text><polyline points="835.19,453.72 838.25,454.33 841.31,454.94 844.37,455.55 847.42,456.15 850.48,456.76 853.54,457.37 856.60,457.98 859.66,458.58 862.72,459.19 865.78,459.79 868.84,460.39 871.90,461.00 874.96,461.60 878.02,462.20 881.08,462.80 884.14,463.40 887.20,464.00 890.25,464.60 893.31,465.19 896.37,465.79 899.43,466.39 902.49,466.98 905.55,467.57 908.61,468.17 911.67,468.76 914.73,469.35 917.79,469.95 920.85,470.54 923.91,471.13 926.97,471.72 930.03,472.30 933.08,472.89 936.14,473.48 939.20,474.07 942.26,474.65 945.32,475.24 948.38,475.82 951.44,476.41 954.50,476.99" fill="none" stroke="#00b050" stroke-width="2.2" stroke-dasharray="0.01 4" stroke-linecap="round"/><polyline points="835.19,505.22 838.25,505.94 841.31,506.65 844.37,507.36 847.42,508.06 850.48,508.77 853.54,509.47 856.60,510.17 859.66,510.87 862.72,511.57 865.78,512.26 868.84,512.95 871.90,513.65 874.96,514.33 878.02,515.02 881.08,515.71 884.14,516.39 887.20,517.07 890.25,517.75 893.31,518.42 896.37,519.10 899.43,519.77 902.49,520.44 905.55,521.11 908.61,521.78 911.67,522.44 914.73,523.10 917.79,523.77 920.85,524.42 923.91,525.08 926.97,525.74 930.03,526.39 933.08,527.04 936.14,527.69 939.20,528.34 942.26,528.98 945.32,529.63 948.38,530.27 951.44,530.91 954.50,531.55" fill="none" stroke="#0070c0" stroke-width="2.2" stroke-dasharray="0.01 4" stroke-linecap="round"/><circle cx="706.94" cy="352.45" r="2.5" fill="#00b050"/><circle cx="738.64" cy="379.69" r="2.5" fill="#00b050"/><circle cx="756.69" cy="392.30" r="2.5" fill="#00b050"/><circle cx="770.34" cy="400.23" r="2.5" fill="#00b050"/><circle cx="788.88" cy="416.49" r="2.5" fill="#00b050"/><circle cx="809.51" cy="435.19" r="2.5" fill="#00b050"/><circle cx="824.13" cy="449.02" r="2.5" fill="#00b050"/><circle cx="835.19" cy="451.26" r="2.5" fill="#00b050"/><circle cx="843.35" cy="455.12" r="2.5" fill="#00b050"/><circle cx="852.28" cy="458.17" r="2.5" fill="#00b050"/><circle cx="862.78" cy="459.79" r="2.5" fill="#00b050"/><circle cx="871.71" cy="461.62" r="2.5" fill="#00b050"/><circle cx="875.93" cy="462.23" r="2.5" fill="#00b050"/><circle cx="888.92" cy="464.27" r="2.5" fill="#00b050"/><circle cx="894.08" cy="465.28" r="2.5" fill="#00b050"/><circle cx="904.99" cy="468.33" r="2.5" fill="#00b050"/><circle cx="906.97" cy="468.54" r="2.5" fill="#00b050"/><circle cx="918.27" cy="470.16" r="2.5" fill="#00b050"/><circle cx="925.98" cy="471.59" r="2.5" fill="#00b050"/><circle cx="936.63" cy="473.01" r="2.5" fill="#00b050"/><circle cx="952.33" cy="475.45" r="2.5" fill="#00b050"/><circle cx="706.94" cy="355.30" r="2.5" fill="#4472c4"/><circle cx="738.64" cy="400.02" r="2.5" fill="#4472c4"/><circle cx="756.69" cy="430.93" r="2.5" fill="#4472c4"/><circle cx="770.34" cy="449.63" r="2.5" fill="#4472c4"/><circle cx="788.88" cy="461.01" r="2.5" fill="#4472c4"/><circle cx="809.51" cy="485.41" r="2.5" fill="#4472c4"/><circle cx="824.13" cy="497.61" r="2.5" fill="#4472c4"/><circle cx="835.19" cy="502.49" r="2.5" fill="#4472c4"/><circle cx="843.35" cy="507.37" r="2.5" fill="#4472c4"/><circle cx="852.28" cy="508.99" r="2.5" fill="#4472c4"/><circle cx="862.78" cy="509.81" r="2.5" fill="#4472c4"/><circle cx="871.71" cy="512.25" r="2.5" fill="#4472c4"/><circle cx="875.93" cy="517.94" r="2.5" fill="#4472c4"/><circle cx="888.92" cy="517.94" r="2.5" fill="#4472c4"/><circle cx="894.08" cy="521.19" r="2.5" fill="#4472c4"/><circle cx="904.99" cy="520.38" r="2.5" fill="#4472c4"/><circle cx="906.97" cy="524.44" r="2.5" fill="#4472c4"/><circle cx="918.27" cy="523.63" r="2.5" fill="#4472c4"/><circle cx="925.98" cy="526.07" r="2.5" fill="#4472c4"/><circle cx="936.63" cy="527.70" r="2.5" fill="#4472c4"/><circle cx="952.33" cy="527.70" r="2.5" fill="#4472c4"/><text x="825.00" y="360.10" font-size="13" fill="#000" text-anchor="start" textLength="104.50" lengthAdjust="spacingAndGlyphs">loss vs #tokens(B)</text><text x="825.00" y="377.70" font-size="13" fill="#000" text-anchor="start" textLength="124.60" lengthAdjust="spacingAndGlyphs">Pile: green, right axis</text><text x="825.00" y="395.30" font-size="13" fill="#000" text-anchor="start" textLength="122.40" lengthAdjust="spacingAndGlyphs">LMBD: blue, left axis</text><rect x="822.5" y="27.5" width="166" height="158" fill="#fff" stroke="#d9d9d9" stroke-width="1"/><rect x="858" y="34" width="1" height="127" fill="#f2f2f2"/><rect x="862" y="34" width="1" height="127" fill="#f2f2f2"/><rect x="867" y="34" width="1" height="127" fill="#f2f2f2"/><rect x="872" y="34" width="1" height="127" fill="#f2f2f2"/><rect x="881" y="34" width="1" height="127" fill="#f2f2f2"/><rect x="886" y="34" width="1" height="127" fill="#f2f2f2"/><rect x="891" y="34" width="1" height="127" fill="#f2f2f2"/><rect x="895" y="34" width="1" height="127" fill="#f2f2f2"/><rect x="905" y="34" width="1" height="127" fill="#f2f2f2"/><rect x="910" y="34" width="1" height="127" fill="#f2f2f2"/><rect x="914" y="34" width="1" height="127" fill="#f2f2f2"/><rect x="919" y="34" width="1" height="127" fill="#f2f2f2"/><rect x="928" y="34" width="1" height="127" fill="#f2f2f2"/><rect x="933" y="34" width="1" height="127" fill="#f2f2f2"/><rect x="938" y="34" width="1" height="127" fill="#f2f2f2"/><rect x="943" y="34" width="1" height="127" fill="#f2f2f2"/><rect x="952" y="34" width="1" height="127" fill="#f2f2f2"/><rect x="957" y="34" width="1" height="127" fill="#f2f2f2"/><rect x="961" y="34" width="1" height="127" fill="#f2f2f2"/><rect x="966" y="34" width="1" height="127" fill="#f2f2f2"/><rect x="853" y="39" width="119" height="1" fill="#f2f2f2"/><rect x="853" y="44" width="119" height="1" fill="#f2f2f2"/><rect x="853" y="49" width="119" height="1" fill="#f2f2f2"/><rect x="853" y="54" width="119" height="1" fill="#f2f2f2"/><rect x="853" y="64" width="119" height="1" fill="#f2f2f2"/><rect x="853" y="69" width="119" height="1" fill="#f2f2f2"/><rect x="853" y="74" width="119" height="1" fill="#f2f2f2"/><rect x="853" y="79" width="119" height="1" fill="#f2f2f2"/><rect x="853" y="90" width="119" height="1" fill="#f2f2f2"/><rect x="853" y="95" width="119" height="1" fill="#f2f2f2"/><rect x="853" y="100" width="119" height="1" fill="#f2f2f2"/><rect x="853" y="105" width="119" height="1" fill="#f2f2f2"/><rect x="853" y="115" width="119" height="1" fill="#f2f2f2"/><rect x="853" y="120" width="119" height="1" fill="#f2f2f2"/><rect x="853" y="125" width="119" height="1" fill="#f2f2f2"/><rect x="853" y="130" width="119" height="1" fill="#f2f2f2"/><rect x="853" y="140" width="119" height="1" fill="#f2f2f2"/><rect x="853" y="145" width="119" height="1" fill="#f2f2f2"/><rect x="853" y="150" width="119" height="1" fill="#f2f2f2"/><rect x="853" y="155" width="119" height="1" fill="#f2f2f2"/><rect x="853" y="34" width="1" height="127" fill="#d9d9d9"/><rect x="853" y="34" width="119" height="1" fill="#d9d9d9"/><rect x="877" y="34" width="1" height="127" fill="#d9d9d9"/><rect x="853" y="59" width="119" height="1" fill="#d9d9d9"/><rect x="900" y="34" width="1" height="127" fill="#d9d9d9"/><rect x="853" y="85" width="119" height="1" fill="#d9d9d9"/><rect x="924" y="34" width="1" height="127" fill="#d9d9d9"/><rect x="853" y="110" width="119" height="1" fill="#d9d9d9"/><rect x="947" y="34" width="1" height="127" fill="#d9d9d9"/><rect x="853" y="135" width="119" height="1" fill="#d9d9d9"/><rect x="971" y="34" width="1" height="127" fill="#d9d9d9"/><rect x="853" y="160" width="119" height="1" fill="#d9d9d9"/><rect x="853" y="34" width="1" height="127" fill="#bfbfbf"/><rect x="853" y="160" width="119" height="1" fill="#bfbfbf"/><text x="840.20" y="37.90" font-size="11.2" fill="#595959" text-anchor="end" textLength="16.09" lengthAdjust="spacingAndGlyphs">5.0</text><text x="840.20" y="63.12" font-size="11.2" fill="#595959" text-anchor="end" textLength="16.09" lengthAdjust="spacingAndGlyphs">4.5</text><text x="840.20" y="88.34" font-size="11.2" fill="#595959" text-anchor="end" textLength="16.09" lengthAdjust="spacingAndGlyphs">4.0</text><text x="840.20" y="113.56" font-size="11.2" fill="#595959" text-anchor="end" textLength="16.09" lengthAdjust="spacingAndGlyphs">3.5</text><text x="840.20" y="138.78" font-size="11.2" fill="#595959" text-anchor="end" textLength="16.09" lengthAdjust="spacingAndGlyphs">3.0</text><text x="840.20" y="164.00" font-size="11.2" fill="#595959" text-anchor="end" textLength="16.09" lengthAdjust="spacingAndGlyphs">2.5</text><text x="853.50" y="180.30" font-size="11.2" fill="#595959" text-anchor="middle" textLength="16.09" lengthAdjust="spacingAndGlyphs">2.0</text><text x="877.08" y="180.30" font-size="11.2" fill="#595959" text-anchor="middle" textLength="16.09" lengthAdjust="spacingAndGlyphs">2.2</text><text x="900.66" y="180.30" font-size="11.2" fill="#595959" text-anchor="middle" textLength="16.09" lengthAdjust="spacingAndGlyphs">2.4</text><text x="924.24" y="180.30" font-size="11.2" fill="#595959" text-anchor="middle" textLength="16.09" lengthAdjust="spacingAndGlyphs">2.6</text><text x="947.82" y="180.30" font-size="11.2" fill="#595959" text-anchor="middle" textLength="16.09" lengthAdjust="spacingAndGlyphs">2.8</text><text x="971.40" y="180.30" font-size="11.2" fill="#595959" text-anchor="middle" textLength="16.09" lengthAdjust="spacingAndGlyphs">3.0</text><polyline points="886.23,160.70 889.00,157.50 891.78,154.24 894.55,150.94 897.33,147.60 900.10,144.20 902.88,140.76 905.65,137.26 908.42,133.72 911.20,130.13 913.97,126.49 916.75,122.80 919.52,119.06 922.30,115.27 925.07,111.43 927.84,107.55 930.62,103.61 933.39,99.61 936.17,95.57 938.94,91.48 941.72,87.34 944.49,83.14 947.26,78.90 950.04,74.60 952.81,70.25 955.59,65.84 958.36,61.39 961.14,56.88 963.91,52.32 966.68,47.71" fill="none" stroke="#4472c4" stroke-width="2" stroke-dasharray="0.01 4" stroke-linecap="round"/><circle cx="965.98" cy="42.17" r="2.5" fill="#4472c4"/><circle cx="950.18" cy="69.91" r="2.5" fill="#4472c4"/><circle cx="942.87" cy="89.08" r="2.5" fill="#4472c4"/><circle cx="938.27" cy="100.68" r="2.5" fill="#4472c4"/><circle cx="928.84" cy="107.74" r="2.5" fill="#4472c4"/><circle cx="917.99" cy="122.87" r="2.5" fill="#4472c4"/><circle cx="909.97" cy="130.44" r="2.5" fill="#4472c4"/><circle cx="908.68" cy="133.46" r="2.5" fill="#4472c4"/><circle cx="906.44" cy="136.49" r="2.5" fill="#4472c4"/><circle cx="904.67" cy="137.50" r="2.5" fill="#4472c4"/><circle cx="903.73" cy="138.00" r="2.5" fill="#4472c4"/><circle cx="902.66" cy="139.52" r="2.5" fill="#4472c4"/><circle cx="902.31" cy="143.05" r="2.5" fill="#4472c4"/><circle cx="901.13" cy="143.05" r="2.5" fill="#4472c4"/><circle cx="900.54" cy="145.06" r="2.5" fill="#4472c4"/><circle cx="898.77" cy="144.56" r="2.5" fill="#4472c4"/><circle cx="898.66" cy="147.08" r="2.5" fill="#4472c4"/><circle cx="897.71" cy="146.58" r="2.5" fill="#4472c4"/><circle cx="896.89" cy="148.09" r="2.5" fill="#4472c4"/><circle cx="896.06" cy="149.10" r="2.5" fill="#4472c4"/><circle cx="894.65" cy="149.10" r="2.5" fill="#4472c4"/><text x="848.20" y="52.60" font-size="13" fill="#000" text-anchor="start" textLength="102.50" lengthAdjust="spacingAndGlyphs">Pile vs LMBD loss</text></svg>
</body></html>
